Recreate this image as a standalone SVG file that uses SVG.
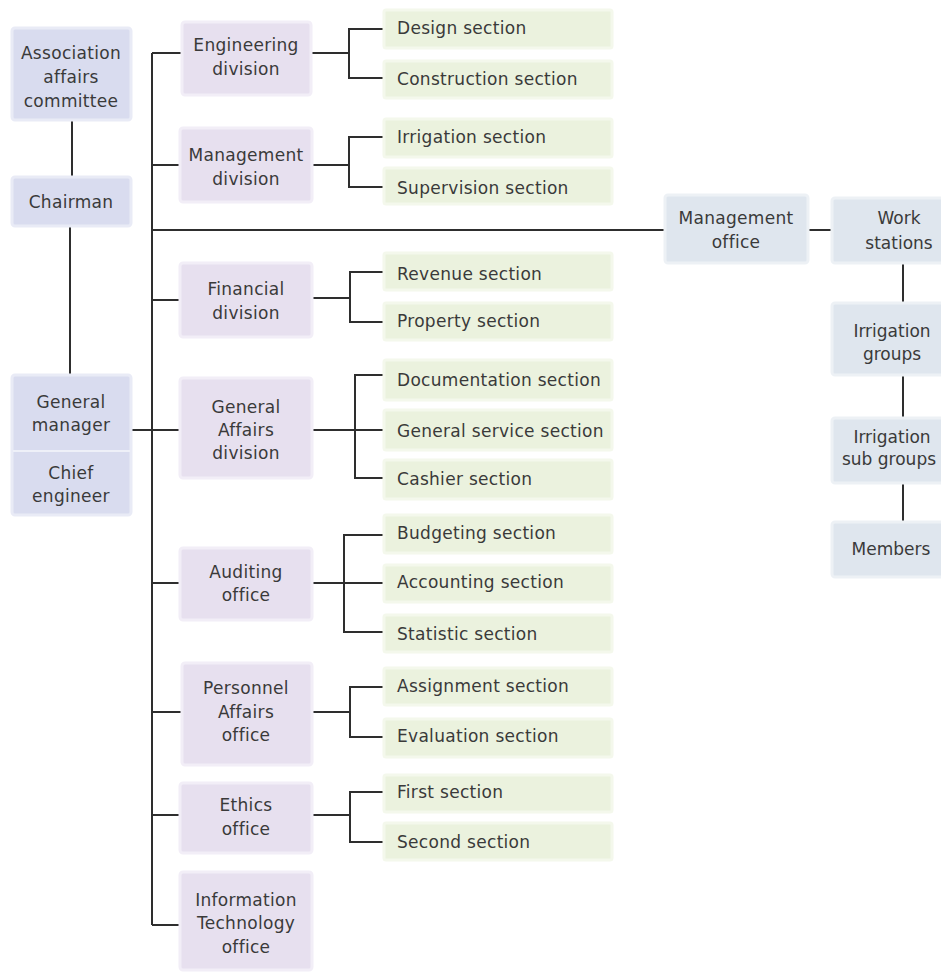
<svg xmlns="http://www.w3.org/2000/svg" width="941" height="974" viewBox="0 0 941 974">
<style>
  text { font-family: "DejaVu Sans", "Liberation Sans", sans-serif; font-size: 17px; fill: #3a3a3a; dominant-baseline: central; letter-spacing: 0.3px; }
  .c { text-anchor: middle; }
  .l { text-anchor: start; }
  .r { letter-spacing: 0; }
  .top { fill: #d9dcef; stroke: #e9ebf6; stroke-width: 3; }
  .div { fill: #e7e0ef; stroke: #f2eef7; stroke-width: 3; }
  .sec { fill: #ebf2de; stroke: #f4f8ec; stroke-width: 3; }
  .off { fill: #dfe6ee; stroke: #edf1f5; stroke-width: 3; }
  .ln { fill: none; stroke: #2e2e2e; stroke-width: 2; }
</style>
<rect width="941" height="974" fill="#ffffff"/>

<g id="connectors">
  <path class="ln" d="M72 120 V177"/>
  <path class="ln" d="M70 226 V375"/>
  <path class="ln" d="M131 430 H181"/>
  <path class="ln" d="M152 53 V925"/>
  <path class="ln" d="M152 53 H182"/>
  <path class="ln" d="M152 165 H180"/>
  <path class="ln" d="M152 230 H665"/>
  <path class="ln" d="M152 300 H180"/>
  <path class="ln" d="M152 583 H180"/>
  <path class="ln" d="M152 712 H182"/>
  <path class="ln" d="M152 815 H180"/>
  <path class="ln" d="M152 925 H180"/>
  <path class="ln" d="M808 230 H832"/>
  <path class="ln" d="M903 263 V303"/>
  <path class="ln" d="M903 375 V418"/>
  <path class="ln" d="M903 483 V522"/>
  <path class="ln" d="M312 53 H349 M383 29 H349 V78 H383"/>
  <path class="ln" d="M312 165 H349 M383 137 H349 V187 H383"/>
  <path class="ln" d="M312 298 H350 M383 272 H350 V322 H383"/>
  <path class="ln" d="M312 430 H383 M383 375 H355 V478 H383"/>
  <path class="ln" d="M312 583 H383 M383 535 H344 V632 H383"/>
  <path class="ln" d="M312 712 H350 M383 687 H350 V737 H383"/>
  <path class="ln" d="M312 815 H350 M383 792 H350 V842 H383"/>
</g>

<g id="assoc"><rect class="top" x="12" y="28" width="119" height="92" rx="3"/>
  <text class="c" x="71" y="53">Association</text><text class="c" x="71" y="77">affairs</text><text class="c" x="71" y="101">committee</text></g>
<g id="chairman"><rect class="top" x="12" y="177" width="119" height="49" rx="3"/>
  <text class="c" x="71" y="202">Chairman</text></g>
<g id="general-manager"><rect class="top" x="12" y="375" width="119" height="140" rx="3"/>
  <line x1="13" y1="451" x2="130" y2="451" stroke="#eef0f8" stroke-width="2"/>
  <text class="c" x="71" y="402">General</text><text class="c" x="71" y="425">manager</text>
  <text class="c" x="71" y="473">Chief</text><text class="c" x="71" y="496">engineer</text></g>

<g id="engineering"><rect class="div" x="182" y="22" width="129" height="73" rx="3"/>
  <text class="c" x="246" y="45">Engineering</text><text class="c" x="246" y="69">division</text></g>
<g id="management-division"><rect class="div" x="180" y="128" width="132" height="74" rx="3"/>
  <text class="c" x="246" y="155">Management</text><text class="c" x="246" y="179">division</text></g>
<g id="financial"><rect class="div" x="180" y="263" width="132" height="74" rx="3"/>
  <text class="c" x="246" y="289">Financial</text><text class="c" x="246" y="313">division</text></g>
<g id="general-affairs"><rect class="div" x="180" y="378" width="132" height="100" rx="3"/>
  <text class="c" x="246" y="407">General</text><text class="c" x="246" y="430">Affairs</text><text class="c" x="246" y="453">division</text></g>
<g id="auditing"><rect class="div" x="180" y="548" width="132" height="72" rx="3"/>
  <text class="c" x="246" y="572">Auditing</text><text class="c" x="246" y="595">office</text></g>
<g id="personnel"><rect class="div" x="182" y="663" width="130" height="102" rx="3"/>
  <text class="c" x="246" y="688">Personnel</text><text class="c" x="246" y="712">Affairs</text><text class="c" x="246" y="735">office</text></g>
<g id="ethics"><rect class="div" x="180" y="783" width="132" height="70" rx="3"/>
  <text class="c" x="246" y="805">Ethics</text><text class="c" x="246" y="829">office</text></g>
<g id="it-office"><rect class="div" x="180" y="872" width="132" height="98" rx="3"/>
  <text class="c" x="246" y="900">Information</text><text class="c" x="246" y="923">Technology</text><text class="c" x="246" y="947">office</text></g>

<g id="design"><rect class="sec" x="384" y="10" width="228" height="38" rx="2"/><text class="l" x="397" y="28">Design section</text></g>
<g id="construction"><rect class="sec" x="384" y="61" width="228" height="37" rx="2"/><text class="l" x="397" y="79">Construction section</text></g>
<g id="irrigation-section"><rect class="sec" x="384" y="119" width="228" height="38" rx="2"/><text class="l" x="397" y="137">Irrigation section</text></g>
<g id="supervision"><rect class="sec" x="384" y="168" width="228" height="36" rx="2"/><text class="l" x="397" y="188">Supervision section</text></g>
<g id="revenue"><rect class="sec" x="384" y="253" width="228" height="37" rx="2"/><text class="l" x="397" y="274">Revenue section</text></g>
<g id="property"><rect class="sec" x="384" y="303" width="228" height="37" rx="2"/><text class="l" x="397" y="321">Property section</text></g>
<g id="documentation"><rect class="sec" x="384" y="360" width="228" height="40" rx="2"/><text class="l" x="397" y="380">Documentation section</text></g>
<g id="general-service"><rect class="sec" x="384" y="410" width="228" height="40" rx="2"/><text class="l" x="397" y="431">General service section</text></g>
<g id="cashier"><rect class="sec" x="384" y="460" width="228" height="39" rx="2"/><text class="l" x="397" y="479">Cashier section</text></g>
<g id="budgeting"><rect class="sec" x="384" y="515" width="228" height="38" rx="2"/><text class="l" x="397" y="533">Budgeting section</text></g>
<g id="accounting"><rect class="sec" x="384" y="565" width="228" height="37" rx="2"/><text class="l" x="397" y="582">Accounting section</text></g>
<g id="statistic"><rect class="sec" x="384" y="615" width="228" height="37" rx="2"/><text class="l" x="397" y="634">Statistic section</text></g>
<g id="assignment"><rect class="sec" x="384" y="668" width="228" height="37" rx="2"/><text class="l" x="397" y="686">Assignment section</text></g>
<g id="evaluation"><rect class="sec" x="384" y="719" width="228" height="38" rx="2"/><text class="l" x="397" y="736">Evaluation section</text></g>
<g id="first"><rect class="sec" x="384" y="775" width="228" height="37" rx="2"/><text class="l" x="397" y="792">First section</text></g>
<g id="second"><rect class="sec" x="384" y="823" width="228" height="37" rx="2"/><text class="l" x="397" y="842">Second section</text></g>

<g id="management-office"><rect class="off" x="665" y="195" width="143" height="68" rx="3"/>
  <text class="c" x="736" y="218">Management</text><text class="c" x="736" y="242">office</text></g>
<g id="work-stations"><rect class="off" x="832" y="198" width="143" height="65" rx="3"/>
  <text class="c r" x="899" y="218">Work</text><text class="c r" x="899" y="243">stations</text></g>
<g id="irrigation-groups"><rect class="off" x="832" y="303" width="143" height="72" rx="3"/>
  <text class="c r" x="892" y="331">Irrigation</text><text class="c r" x="892" y="354">groups</text></g>
<g id="irrigation-sub-groups"><rect class="off" x="832" y="418" width="143" height="65" rx="3"/>
  <text class="c r" x="892" y="437">Irrigation</text><text class="c r" x="889" y="459">sub groups</text></g>
<g id="members"><rect class="off" x="832" y="522" width="143" height="55" rx="3"/>
  <text class="c r" x="891" y="549">Members</text></g>
</svg>
